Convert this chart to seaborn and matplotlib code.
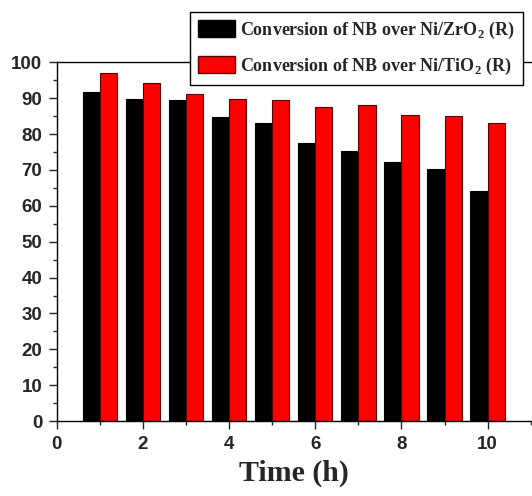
import pandas as pd
import numpy as np
import matplotlib
matplotlib.use("Agg")
import matplotlib.pyplot as plt
import seaborn as sns
from matplotlib.patches import Patch
from matplotlib.ticker import MultipleLocator

# ===============================
# Data
# ===============================

time_h = [1, 2, 3, 4, 5, 6, 7, 8, 9, 10]
conv_zro2 = [91.6, 89.9, 89.6, 84.7, 83.0, 77.5, 75.3, 72.2, 70.3, 64.1]
conv_tio2 = [96.9, 94.1, 91.1, 89.9, 89.5, 87.5, 88.0, 85.4, 85.1, 83.2]

label_zro2 = r"Conversion of NB over Ni/ZrO$_\mathbf{2}$ (R)"
label_tio2 = r"Conversion of NB over Ni/TiO$_\mathbf{2}$ (R)"

df = pd.DataFrame({
    "time": time_h * 2,
    "conv": conv_zro2 + conv_tio2,
    "series": [label_zro2] * len(time_h) + [label_tio2] * len(time_h),
})

# ===============================
# Style
# ===============================

sns.set_style("ticks")
plt.rcParams["font.family"] = ["Liberation Sans", "DejaVu Sans"]
plt.rcParams["mathtext.fontset"] = "custom"
plt.rcParams["mathtext.rm"] = "Liberation Serif:bold"
plt.rcParams["mathtext.bf"] = "Liberation Serif:bold"

colors = {label_zro2: "#000000", label_tio2: "#ff0000"}

fig = plt.figure(figsize=(5.32, 4.96), dpi=100)
ax = fig.add_axes([0.1066, 0.151, 0.8934, 0.7234])

sns.barplot(data=df, x="time", y="conv", hue="series", palette=colors,
            native_scale=True, width=0.8, legend=False, saturation=1,
            err_kws={"linewidth": 0}, ax=ax)

for p in ax.patches:
    fc = p.get_facecolor()
    if fc[0] > 0.5:
        p.set_edgecolor("#5a0000")
    else:
        p.set_edgecolor("#000000")
    p.set_linewidth(0.8)

ax.set_xlim(0, 11.03)
ax.set_ylim(0, 100)
ax.xaxis.set_major_locator(MultipleLocator(2))
ax.xaxis.set_minor_locator(MultipleLocator(1))
ax.yaxis.set_major_locator(MultipleLocator(10))
ax.yaxis.set_minor_locator(MultipleLocator(5))
ax.tick_params(which="major", direction="out", length=5.5, width=1,
               labelsize=13.5, pad=5)
ax.tick_params(which="minor", direction="out", length=3, width=1)
for lab in ax.get_xticklabels() + ax.get_yticklabels():
    lab.set_fontweight("bold")

ax.spines["right"].set_visible(False)
for s in ["left", "bottom", "top"]:
    ax.spines[s].set_linewidth(1)
    ax.spines[s].set_color("black")

ax.set_xlabel("Time (h)", fontsize=21.5, fontweight="bold",
              family="Liberation Serif", labelpad=5)
ax.set_ylabel("")

handles = [Patch(facecolor="#000000", edgecolor="#000000", label=label_zro2),
           Patch(facecolor="#ff0000", edgecolor="#5a0000", label=label_tio2)]
leg = ax.legend(handles=handles, loc="upper right",
                bbox_to_anchor=(0.983, 0.9764), bbox_transform=fig.transFigure,
                borderaxespad=0, fancybox=False, framealpha=1,
                edgecolor="black", handlelength=2.05, handleheight=1.1,
                handletextpad=0.3, labelspacing=0.8, borderpad=0.45,
                prop={"family": "Liberation Serif", "weight": "bold", "size": 13})
leg.get_frame().set_linewidth(1)

fig.savefig("out.png", dpi=100)
